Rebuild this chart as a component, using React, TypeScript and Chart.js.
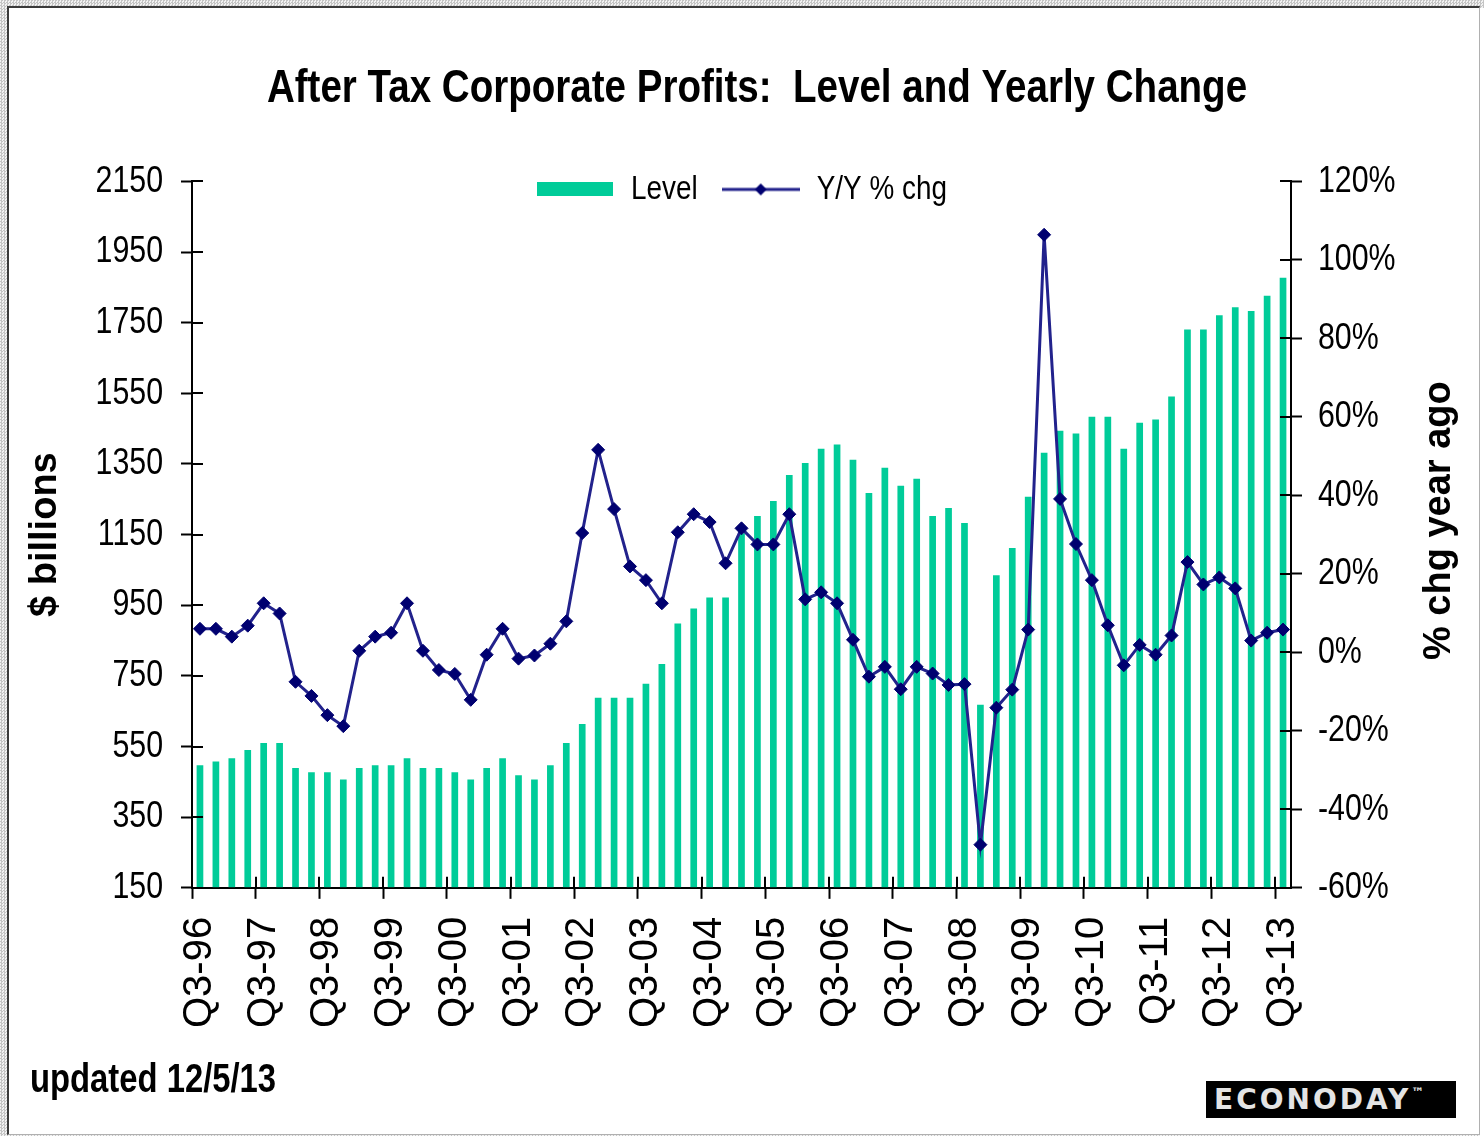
import React, { useEffect, useRef } from 'react';
import { Chart, registerables } from 'chart.js';

Chart.register(...registerables);

// ---------- data ----------
const quarters = [
  'Q3-96', 'Q4-96',
  'Q1-97', 'Q2-97', 'Q3-97', 'Q4-97',
  'Q1-98', 'Q2-98', 'Q3-98', 'Q4-98',
  'Q1-99', 'Q2-99', 'Q3-99', 'Q4-99',
  'Q1-00', 'Q2-00', 'Q3-00', 'Q4-00',
  'Q1-01', 'Q2-01', 'Q3-01', 'Q4-01',
  'Q1-02', 'Q2-02', 'Q3-02', 'Q4-02',
  'Q1-03', 'Q2-03', 'Q3-03', 'Q4-03',
  'Q1-04', 'Q2-04', 'Q3-04', 'Q4-04',
  'Q1-05', 'Q2-05', 'Q3-05', 'Q4-05',
  'Q1-06', 'Q2-06', 'Q3-06', 'Q4-06',
  'Q1-07', 'Q2-07', 'Q3-07', 'Q4-07',
  'Q1-08', 'Q2-08', 'Q3-08', 'Q4-08',
  'Q1-09', 'Q2-09', 'Q3-09', 'Q4-09',
  'Q1-10', 'Q2-10', 'Q3-10', 'Q4-10',
  'Q1-11', 'Q2-11', 'Q3-11', 'Q4-11',
  'Q1-12', 'Q2-12', 'Q3-12', 'Q4-12',
  'Q1-13', 'Q2-13', 'Q3-13',
];

// After-tax corporate profits, $ billions
const levelBillions = [
  497, 508,
  517, 540, 560, 560,
  489, 477, 477, 457,
  489, 497, 497, 517,
  489, 489, 477, 457,
  489, 517, 469, 457,
  497, 560, 614, 688,
  688, 688, 728, 784,
  898, 941, 972, 972,
  1154, 1203, 1245, 1319,
  1353, 1393, 1405, 1362,
  1268, 1339, 1288, 1308,
  1203, 1225, 1183, 668,
  1035, 1112, 1257, 1382,
  1444, 1436, 1484, 1484,
  1393, 1467, 1476, 1541,
  1731, 1731, 1771, 1794,
  1783, 1826, 1877,
];

// Year-over-year % change
const yoyPct = [
  6.0, 6.0,
  4.0, 6.8, 12.5, 9.9,
  -7.5, -11.1, -16.0, -18.8,
  0.4, 4.0, 5.0, 12.5,
  0.4, -4.5, -5.5, -12.1,
  -0.6, 6.0, -1.6, -0.8,
  2.2, 7.9, 30.4, 51.6,
  36.5, 21.9, 18.4, 12.5,
  30.6, 35.2, 33.2, 22.7,
  31.6, 27.5, 27.5, 35.2,
  13.5, 15.3, 12.5, 3.2,
  -6.2, -3.7, -9.4, -3.7,
  -5.4, -8.3, -8.1, -49.0,
  -14.1, -9.5, 5.8, 106.4,
  39.1, 27.6, 18.4, 6.9,
  -3.3, 1.9, -0.6, 4.3,
  23.0, 17.3, 19.1, 16.3,
  3.0, 5.0, 5.8,
];

// axis tick ranges: [min, max, step]
const levelAxis = [150, 2150, 200];
const pctAxis = [-60, 120, 20];

const TITLE = 'After Tax Corporate Profits:  Level and Yearly Change';
const LEFT_TITLE = '$ billions';
const RIGHT_TITLE = '% chg year ago';
const UPDATED = 'updated 12/5/13';
const SERIES_NAMES = ['Level', 'Y/Y % chg'];

// ---------- styles ----------
const GREEN = '#00cc99';
const NAVY_LINE = '#22228c';
const NAVY_PT = '#000070';
const NARROW = "'Liberation Sans Narrow', 'Liberation Sans', Arial, sans-serif";
const SANS = "'Liberation Sans', Arial, sans-serif";
const NARROW_K = 0.82;

function makeLevelSwatch() {
  const c = document.createElement('canvas');
  c.width = 76;
  c.height = 14;
  const g = c.getContext('2d')!;
  g.fillStyle = GREEN;
  g.fillRect(0, 0, 76, 14);
  return c;
}

function makeLineSwatch() {
  const c = document.createElement('canvas');
  c.width = 78;
  c.height = 14;
  const g = c.getContext('2d')!;
  g.strokeStyle = NAVY_LINE;
  g.lineWidth = 3;
  g.beginPath();
  g.moveTo(0, 7);
  g.lineTo(78, 7);
  g.stroke();
  g.fillStyle = NAVY_PT;
  g.beginPath();
  g.moveTo(39 - 6, 7);
  g.lineTo(39, 1);
  g.lineTo(39 + 6, 7);
  g.lineTo(39, 13);
  g.closePath();
  g.fill();
  return c;
}

// condensed rendering for the "Narrow" font family (no narrow face installed)
function condense(ctx: any) {
  const origFill = ctx.fillText.bind(ctx);
  const origMeasure = ctx.measureText.bind(ctx);
  const isNarrow = () => String(ctx.font).indexOf('Narrow') >= 0;
  ctx.measureText = (t: string) => {
    const m = origMeasure(t);
    if (!isNarrow()) return m;
    return {
      width: m.width * NARROW_K,
      actualBoundingBoxAscent: m.actualBoundingBoxAscent,
      actualBoundingBoxDescent: m.actualBoundingBoxDescent,
      actualBoundingBoxLeft: m.actualBoundingBoxLeft * NARROW_K,
      actualBoundingBoxRight: m.actualBoundingBoxRight * NARROW_K,
      fontBoundingBoxAscent: m.fontBoundingBoxAscent,
      fontBoundingBoxDescent: m.fontBoundingBoxDescent,
    };
  };
  ctx.fillText = (t: string, x: number, y: number, mw?: number) => {
    if (!isNarrow()) {
      if (mw === undefined || mw === null) origFill(t, x, y);
      else origFill(t, x, y, mw);
      return;
    }
    const w = origMeasure(t).width * NARROW_K;
    origFill(t, x, y, mw === undefined || mw === null ? w : Math.min(mw, w));
  };
}

const decorPlugin = {
  id: 'decor',
  afterLayout(chart: any) {
    const L = chart.legend;
    if (L) {
      const h = L.bottom - L.top;
      L.top = chart.chartArea.top - 33;
      L.bottom = L.top + h;
    }
  },
  afterDatasetsDraw(chart: any) {
    const { ctx, chartArea: a, scales } = chart;
    ctx.save();
    ctx.strokeStyle = '#000';
    ctx.lineWidth = 2;
    ctx.beginPath();
    scales.y.ticks.forEach((t: any) => {
      const p = Math.round(scales.y.getPixelForValue(t.value));
      ctx.moveTo(a.left, p);
      ctx.lineTo(a.left + 11, p);
    });
    scales.y1.ticks.forEach((t: any) => {
      const p = Math.round(scales.y1.getPixelForValue(t.value));
      ctx.moveTo(a.right, p);
      ctx.lineTo(a.right - 11, p);
    });
    const x = scales.x;
    const half = (x.getPixelForValue(1) - x.getPixelForValue(0)) / 2;
    for (let i = 0; i < quarters.length; i += 4) {
      const p = Math.round(x.getPixelForValue(i) - half);
      ctx.moveTo(p, a.bottom);
      ctx.lineTo(p, a.bottom - 11);
    }
    ctx.stroke();

    ctx.translate(a.right + 149, (a.top + a.bottom) / 2 - 14);
    ctx.rotate(-Math.PI / 2);
    ctx.font = `bold 38px ${SANS}`;
    ctx.fillStyle = '#000';
    ctx.textAlign = 'center';
    ctx.textBaseline = 'middle';
    ctx.fillText(RIGHT_TITLE, 0, 0);
    ctx.restore();
  },
};

export default function App() {
  const ref = useRef<HTMLCanvasElement | null>(null);

  useEffect(() => {
    if (!ref.current) return;
    condense(ref.current.getContext('2d'));
    const levelSwatch = makeLevelSwatch();
    const lineSwatch = makeLineSwatch();

    const chart = new Chart(ref.current, {
      type: 'bar',
      data: {
        labels: quarters,
        datasets: [
          {
            type: 'bar',
            label: SERIES_NAMES[0],
            data: levelBillions,
            yAxisID: 'y',
            backgroundColor: GREEN,
            borderWidth: 0,
            barPercentage: 0.42,
            categoryPercentage: 1,
            base: levelAxis[0],
            order: 2,
          } as any,
          {
            type: 'line',
            label: SERIES_NAMES[1],
            data: yoyPct,
            yAxisID: 'y1',
            borderColor: NAVY_LINE,
            borderWidth: 3,
            tension: 0,
            pointStyle: 'rectRot',
            pointRadius: 6.5,
            pointBackgroundColor: NAVY_PT,
            pointBorderColor: NAVY_PT,
            pointBorderWidth: 1,
            order: 1,
          } as any,
        ],
      },
      options: {
        responsive: false,
        animation: false,
        devicePixelRatio: 1,
        layout: { padding: { left: 30, right: 0, top: 0, bottom: 0 } },
        plugins: {
          tooltip: { enabled: false },
          title: {
            display: true,
            text: TITLE,
            color: '#000',
            font: { family: NARROW, size: 47, weight: 'bold' },
            padding: { top: 61, bottom: -4 },
          },
          subtitle: {
            display: true,
            text: UPDATED,
            position: 'bottom',
            align: 'start',
            color: '#000',
            font: { family: NARROW, size: 40, weight: 'bold' },
            padding: { top: 11, bottom: 31 },
          },
          legend: {
            display: true,
            position: 'top',
            fullSize: false,
            labels: {
              color: '#000',
              font: { family: NARROW, size: 34 },
              padding: 24,
              usePointStyle: true,
              pointStyleWidth: 78,
              generateLabels: (ch: any) => {
                const items = Chart.defaults.plugins.legend.labels.generateLabels(ch);
                items.sort((p: any, q: any) => p.datasetIndex - q.datasetIndex);
                return items.map((it: any) => ({
                  ...it,
                  pointStyle: it.datasetIndex === 0 ? levelSwatch : lineSwatch,
                  fontColor: '#000',
                }));
              },
            },
          },
        },
        scales: {
          x: {
            type: 'category',
            offset: true,
            z: 1,
            border: { display: true, color: '#000', width: 2 },
            grid: {
              offset: true,
              drawOnChartArea: false,
              drawTicks: true,
              tickLength: 11,
              tickWidth: 2,
              tickColor: (c: any) => (c.index % 4 === 0 ? '#000' : 'rgba(0,0,0,0)'),
            },
            ticks: {
              autoSkip: false,
              maxRotation: 90,
              minRotation: 90,
              padding: 18,
              color: '#000',
              font: { family: SANS, size: 40 },
              callback: function (this: any, val: any, index: number) {
                return index % 4 === 0 ? this.getLabelForValue(val) : '';
              },
            },
          },
          y: {
            type: 'linear',
            position: 'left',
            min: levelAxis[0],
            max: levelAxis[1],
            border: { display: true, color: '#000', width: 2 },
            grid: { drawOnChartArea: false, tickLength: 11, tickWidth: 2, tickColor: '#000' },
            ticks: {
              stepSize: levelAxis[2],
              padding: 18,
              color: '#000',
              font: { family: NARROW, size: 37 },
              callback: (v: any) => String(v),
            },
            title: {
              display: true,
              text: LEFT_TITLE,
              color: '#000',
              font: { family: SANS, size: 38, weight: 'bold' },
              padding: { top: -7, bottom: 0 },
            },
            afterFit: (s: any) => {
              s.width = 162;
            },
          },
          y1: {
            type: 'linear',
            position: 'right',
            min: pctAxis[0],
            max: pctAxis[1],
            border: { display: true, color: '#000', width: 2 },
            grid: { drawOnChartArea: false, tickLength: 11, tickWidth: 2, tickColor: '#000' },
            ticks: {
              stepSize: pctAxis[2],
              padding: 16,
              color: '#000',
              font: { family: NARROW, size: 37 },
              callback: (v: any) => `${v}%`,
            },
            afterFit: (s: any) => {
              s.width = 193;
            },
          },
        },
      } as any,
      plugins: [decorPlugin],
    });
    return () => chart.destroy();
  }, []);

  return (
    <div
      style={{
        position: 'absolute',
        left: 0,
        top: 0,
        width: 1484,
        height: 1136,
        overflow: 'hidden',
        background: 'repeating-conic-gradient(#c4c4c4 0% 25%, #f2f2f2 0% 50%) 0 0 / 3px 3px',
      }}
    >
      <div
        style={{
          position: 'absolute',
          left: 7,
          top: 6,
          width: 1473,
          height: 1129,
          background: '#fff',
          borderLeft: '2px solid #3a3a3a',
          borderTop: '2px solid #3a3a3a',
          borderRight: '1px solid #b0b0b0',
          borderBottom: '1px solid #b0b0b0',
          boxSizing: 'border-box',
        }}
      />
      <div
        style={{
          position: 'absolute',
          left: 1480,
          top: 8,
          width: 4,
          height: 1128,
          background: '#fff',
        }}
      />
      <canvas
        ref={ref}
        width={1484}
        height={1136}
        style={{ position: 'absolute', left: 0, top: 0, width: 1484, height: 1136 }}
      />
      <div
        style={{
          position: 'absolute',
          left: 1206,
          top: 1081,
          width: 250,
          height: 37,
          background: '#000',
          color: '#e4e4e4',
          fontFamily: "'DejaVu Sans', sans-serif",
          fontWeight: 'bold',
          fontSize: 28,
          lineHeight: '37px',
          letterSpacing: 3,
          paddingLeft: 8,
          boxSizing: 'border-box',
          whiteSpace: 'nowrap',
        }}
      >
        ECONODAY<span style={{ fontSize: 13, verticalAlign: 'top', lineHeight: '24px', letterSpacing: 0 }}>™</span>
      </div>
    </div>
  );
}
